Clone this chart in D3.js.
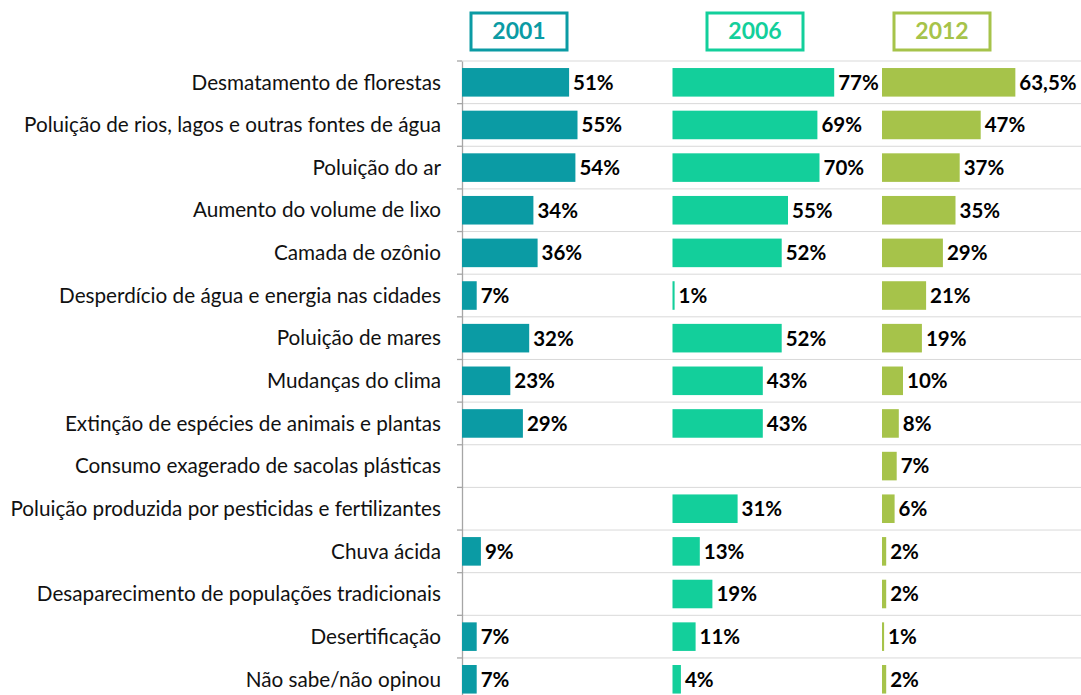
<!DOCTYPE html>
<html>
<head>
<meta charset="utf-8">
<script src="https://cdn.jsdelivr.net/npm/d3@7"></script>
<style>
  body { margin: 0; background: #fff; }
  text { font-family: Lato, "Open Sans", sans-serif; }
</style>
</head>
<body>
<div id="chart"></div>
<script>
// data
const categories = [
  "Desmatamento de florestas",
  "Poluição de rios, lagos e outras fontes de água",
  "Poluição do ar",
  "Aumento do volume de lixo",
  "Camada de ozônio",
  "Desperdício de água e energia nas cidades",
  "Poluição de mares",
  "Mudanças do clima",
  "Extinção de espécies de animais e plantas",
  "Consumo exagerado de sacolas plásticas",
  "Poluição produzida por pesticidas e fertilizantes",
  "Chuva ácida",
  "Desaparecimento de populações tradicionais",
  "Desertificação",
  "Não sabe/não opinou"
];
const years = ["2001", "2006", "2012"];
const values2001 = [51, 55, 54, 34, 36, 7, 32, 23, 29, null, null, 9, null, 7, 7];
const values2006 = [77, 69, 70, 55, 52, 1, 52, 43, 43, null, 31, 13, 19, 11, 4];
const values2012 = [63.5, 47, 37, 35, 29, 21, 19, 10, 8, 7, 6, 2, 2, 1, 2];
const seriesValues = [values2001, values2006, values2012];

// look
const colors = ["#0b9ba4", "#13cf9b", "#a6c34a"];
const width = 1081, height = 695;
const axisX = 462;          // left edge of the bars
const panelStarts = [462, 672.5, 882]; // where each year's bars start
const panelWidth = 210;     // 100% in pixels
const topY = 61, rowStep = 42.64;
const headerCenters = [519, 755, 942];

const svg = d3.select("#chart").append("svg")
  .attr("width", width)
  .attr("height", height);

const y = d3.scaleBand()
  .domain(categories)
  .range([topY, topY + rowStep * categories.length])
  .padding(0);

const barH = y.bandwidth() * 0.67;

// gridlines between rows
const bounds = categories.map(c => y(c)).concat([y.range()[1]]);
svg.append("g").selectAll("line")
  .data(bounds)
  .join("line")
  .attr("x1", axisX).attr("x2", width)
  .attr("y1", d => d).attr("y2", d => d)
  .attr("stroke", "#d9d9d9").attr("stroke-width", 1);

// category axis
const yAxis = d3.axisLeft(y).tickSize(0).tickPadding(21);
const gAxis = svg.append("g")
  .attr("transform", `translate(${axisX},0)`)
  .call(yAxis);
gAxis.select(".domain").attr("stroke", "#a6a6a6").attr("stroke-width", 1.3);
gAxis.selectAll(".tick text")
  .attr("fill", "#111")
  .style("font-size", "18px")
  .attr("dy", "0.35em");
// fit labels so the longest one starts near x=10
let maxW = 0;
gAxis.selectAll(".tick text").each(function () { maxW = Math.max(maxW, this.getComputedTextLength()); });
const fs = 18 * 431 / maxW;
gAxis.selectAll(".tick text").style("font-size", fs + "px");

// small tick marks at row boundaries
svg.append("g").selectAll("line")
  .data(bounds)
  .join("line")
  .attr("x1", axisX - 5).attr("x2", axisX)
  .attr("y1", d => d).attr("y2", d => d)
  .attr("stroke", "#a6a6a6").attr("stroke-width", 1.3);

// bars for each year
seriesValues.forEach((vals, i) => {
  const x = d3.scaleLinear().domain([0, 100]).range([panelStarts[i], panelStarts[i] + panelWidth]);
  const rows = categories.map((c, j) => ({ c, v: vals[j] })).filter(d => d.v != null);
  const g = svg.append("g");
  g.selectAll("rect")
    .data(rows)
    .join("rect")
    .attr("x", x(0))
    .attr("y", d => y(d.c) + (y.bandwidth() - barH) / 2)
    .attr("width", d => Math.max(x(d.v) - x(0), 1.5))
    .attr("height", barH)
    .attr("fill", colors[i]);
  g.selectAll("text")
    .data(rows)
    .join("text")
    .attr("x", d => x(d.v) + 4)
    .attr("y", d => y(d.c) + y.bandwidth() / 2)
    .attr("dy", "0.36em")
    .style("font-size", "20.5px")
    .style("font-weight", "bold")
    .attr("fill", "#000")
    .text(d => String(d.v).replace(".", ",") + "%");

  // year header box
  const h = svg.append("g").attr("transform", `translate(${headerCenters[i]},31)`);
  h.append("rect")
    .attr("x", -48).attr("y", -18)
    .attr("width", 96).attr("height", 37)
    .attr("fill", "#fff")
    .attr("stroke", colors[i]).attr("stroke-width", 3);
  h.append("text")
    .attr("text-anchor", "middle")
    .attr("dy", "0.36em")
    .style("font-size", "23px")
    .style("font-weight", "bold")
    .attr("fill", colors[i])
    .text(years[i]);
});
</script>
</body>
</html>
